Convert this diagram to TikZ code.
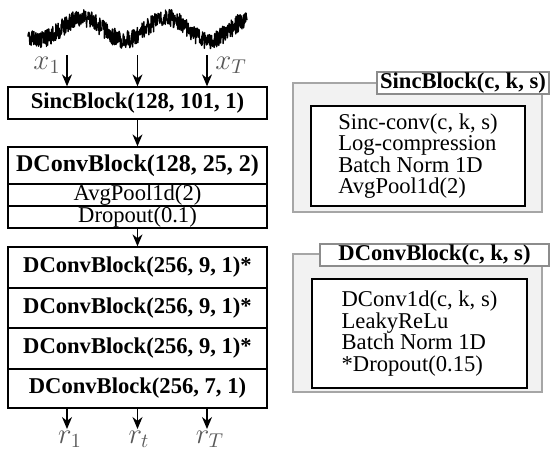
\documentclass[tikz,border=0pt]{standalone}
\usepackage{fontspec}
\setmainfont{Liberation Serif}
\usetikzlibrary{arrows.meta}

\begin{document}
\begin{tikzpicture}[x=0.5pt, y=-0.5pt,
  layer/.style={rectangle, draw, line width=0.65pt, inner sep=0pt, minimum width=129.5pt, font=\fontsize{11.3}{13}\selectfont},
  flow/.style={-{Stealth[length=6pt, width=5pt]}, line width=0.65pt},
  lbl/.style={text=black!65, inner sep=0pt, font=\fontsize{14}{16}\selectfont},
  panel/.style={rectangle, draw=black!35, fill=black!5, line width=0.6pt, minimum width=124.5pt, inner sep=0pt},
  ptitle/.style={rectangle, draw=black!45, fill=white, line width=0.6pt, inner sep=0pt, minimum height=11pt, font=\fontsize{11.3}{13}\selectfont\bfseries},
  pbody/.style={rectangle, draw, fill=white, line width=0.65pt, inner sep=0pt, align=left, font=\fontsize{11.3}{10.7}\selectfont}]
\useasboundingbox (0,0) rectangle (550,450);

% input signal
\pgfmathsetseed{11}
\draw[line width=0.7pt, line join=round] plot[domain=28:247, samples=700]
  (\x, {29 - 11*cos(4.235*(\x-82)) + 9*(rand)});

% layers
\node[layer, minimum height=16pt] (sinc) at (137.5, 103) {\bfseries SincBlock(128, 101, 1)};
\node[layer, minimum height=18.5pt, font=\fontsize{12}{14}\selectfont] (dc1) at (137.5, 165.5) {\bfseries DConvBlock(128, 25, 2)};
\node[layer, minimum height=11pt] (pool) at (137.5, 195) {AvgPool1d(2)};
\node[layer, minimum height=11pt] (drop) at (137.5, 217) {Dropout(0.1)};
\node[layer, minimum height=20.5pt] (dc2) at (137.5, 267.5) {\bfseries DConvBlock(256, 9, 1)*};
\node[layer, minimum height=20pt] (dc3) at (137.5, 308) {\bfseries DConvBlock(256, 9, 1)*};
\node[layer, minimum height=20.5pt] (dc4) at (137.5, 348.5) {\bfseries DConvBlock(256, 9, 1)*};
\node[layer, minimum height=19.5pt] (dc5) at (137.5, 388.5) {\bfseries DConvBlock(256, 7, 1)};

% inputs and outputs
\coordinate (in1) at (67, 55);
\coordinate (int) at (137.5, 55);
\coordinate (inT) at (207, 55);
\coordinate (out1) at (67, 429);
\coordinate (outt) at (137.5, 429);
\coordinate (outT) at (207, 429);

\draw[flow] (in1) -- (in1 |- sinc.north);
\draw[flow] (int) -- (int |- sinc.north);
\draw[flow] (inT) -- (inT |- sinc.north);
\draw[flow] (sinc) -- (dc1);
\draw[flow] (drop) -- (dc2);
\draw[flow] (out1 |- dc5.south) -- (out1);
\draw[flow] (outt |- dc5.south) -- (outt);
\draw[flow] (outT |- dc5.south) -- (outT);

\node[lbl] (x1) at (47, 65) {$x_1$};
\node[lbl] (xT) at (231, 65) {$x_T$};
\node[lbl] (r1) at (70, 439) {$r_1$};
\node[lbl] (rt) at (139, 439) {$r_t$};
\node[lbl] (rT) at (210, 439) {$r_T$};

% block definitions
\node[panel, minimum height=64.5pt] (sincpanel) at (417.5, 147.5) {};
\node[ptitle, minimum width=86pt] (sinctitle) at (463, 83) {SincBlock(c, k, s)};
\node[pbody, minimum width=107pt, minimum height=50pt] (sincbody) at (418, 156) {Sinc-conv(c, k, s)\\ Log-compression\\ Batch Norm 1D\\ AvgPool1d(2)};

\node[panel, minimum height=69pt] (dcpanel) at (417.5, 323) {};
\node[ptitle, minimum width=114.5pt] (dctitle) at (434.5, 255) {DConvBlock(c, k, s)};
\node[pbody, minimum width=107.5pt, minimum height=54.5pt] (dcbody) at (419.5, 333.5) {DConv1d(c, k, s)\\ LeakyReLu\\ Batch Norm 1D\\ *Dropout(0.15)};

\end{tikzpicture}
\end{document}
